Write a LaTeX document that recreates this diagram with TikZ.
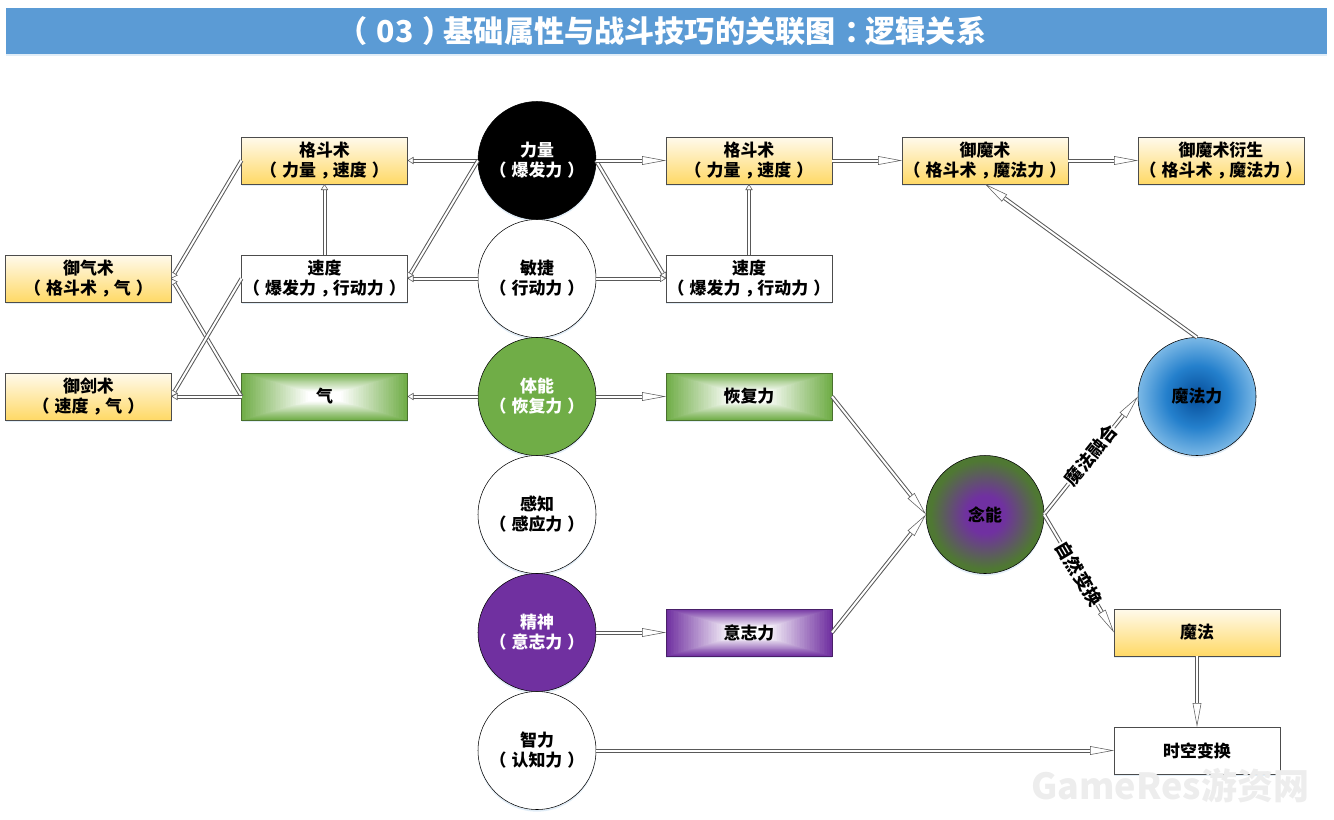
\documentclass[tikz,border=0pt]{standalone}
\usepackage{fontspec}
\setmainfont{Noto Sans CJK SC}
\usetikzlibrary{arrows.meta,shadows}
\definecolor{barblue}{HTML}{5B9BD5}
\definecolor{goldlow}{HTML}{FFD966}
\definecolor{goldtop}{HTML}{FFFAEC}
\definecolor{gridgreen}{HTML}{70AD47}
\definecolor{gridpurple}{HTML}{7030A0}
\newcommand{\lpr}{\kern-.3em（\kern.3em}
\newcommand{\rpr}{\kern.3em）\kern-.3em}
\newcommand{\cma}{\kern.25em，\kern-.25em}
\newcommand{\cln}{\kern.3em：\kern-.3em}
\pgfdeclareradialshading{magicglow}{\pgfpointorigin}{rgb(0bp)=(0.02,0.30,0.60);rgb(13bp)=(0.14,0.50,0.80);rgb(25bp)=(0.48,0.72,0.90);rgb(36bp)=(0.80,0.88,0.95);rgb(50bp)=(0.80,0.88,0.95)}
\pgfdeclareradialshading{nianglow}{\pgfpointorigin}{rgb(0bp)=(0.44,0.19,0.63);rgb(8bp)=(0.44,0.19,0.63);rgb(23bp)=(0.31,0.47,0.20);rgb(50bp)=(0.31,0.47,0.20)}
\tikzset{
 softshadow/.style={drop shadow={shadow xshift=0pt,shadow yshift=-1.6pt,opacity=.18,fill=barblue}},
 basebox/.style={rectangle,draw=black!70,line width=.5pt,minimum width=124.5pt,minimum height=35.25pt,inner sep=0pt,outer sep=0pt,align=center,font=\bfseries\fontsize{12.7}{15}\selectfont,softshadow},
 plainbox/.style={basebox,fill=white},
 goldbox/.style={basebox,top color=goldtop,bottom color=goldlow},
 glowbox/.style={basebox,draw=#1!65!black,fill=#1,path picture={\foreach \k in {100,98,...,0}{\pgfmathtruncatemacro{\c}{max(0,(\k-20)*1.25)};\fill[#1!\c!white]([xshift=-\k*.6225pt,yshift=-\k*.1763pt]path picture bounding box.center) rectangle ([xshift=\k*.6225pt,yshift=\k*.1763pt]path picture bounding box.center);}}},
 basecirc/.style={circle,draw=black,line width=.4pt,minimum size=88.5pt,inner sep=0pt,outer sep=0pt,align=center,font=\bfseries\fontsize{12.7}{15}\selectfont,softshadow},
 whitecirc/.style={basecirc,fill=white},
 blackcirc/.style={basecirc,fill=black,text=white},
 greencirc/.style={basecirc,fill=gridgreen,text=white},
 purplecirc/.style={basecirc,fill=gridpurple,text=white},
 magiccirc/.style={basecirc,shading=magicglow},
 niancirc/.style={basecirc,shading=nianglow},
 dbl/.style={draw=black!65,line width=.75pt,double=white,double distance=1.5pt},
 longtip/.style={dbl,-{Triangle[open,fill=white,length=18pt,width=6.5pt,line width=.4pt]}},
 shorttip/.style={dbl,-{Triangle[open,fill=white,length=4.5pt,width=5.5pt,line width=.4pt]}},
 linelabel/.style={sloped,midway,fill=white,inner sep=0pt,font=\bfseries\fontsize{13.5}{13.5}\selectfont}
}
\begin{document}
\begin{tikzpicture}[x=.75pt,y=-.75pt]
\useasboundingbox (0,0) rectangle (1334,819);
\node[fill=barblue,minimum width=990.75pt,minimum height=34.5pt,inner sep=0pt,outer sep=0pt,text=white,font=\bfseries\fontsize{22.6}{24}\selectfont,softshadow] (titlebar) at (666.5,31) {\lpr 03\rpr 基础属性与战斗技巧的关联图\cln 逻辑关系};
\foreach \nm/\sty/\x/\y/\txt in {liliang/blackcirc/537/160.5/{力量\\\lpr 爆发力\rpr},minjie/whitecirc/537/278.5/{敏捷\\\lpr 行动力\rpr},tineng/greencirc/537/396.5/{体能\\\lpr 恢复力\rpr},ganzhi/whitecirc/537/514.5/{感知\\\lpr 感应力\rpr},jingshen/purplecirc/537/632.5/{精神\\\lpr 意志力\rpr},zhili/whitecirc/537/750.5/{智力\\\lpr 认知力\rpr},mofali/magiccirc/1197/396.5/{魔法力},nianneng/niancirc/985/514.5/{念能}}{\node[\sty] (\nm) at (\x,\y) {\txt};}
\foreach \nm/\sty/\x/\y/\txt in {yuqi/goldbox/88.5/278.5/{御气术\\\lpr 格斗术\cma 气\rpr},yujian/goldbox/88.5/396.5/{御剑术\\\lpr 速度\cma 气\rpr},gedoua/goldbox/324.5/160.5/{格斗术\\\lpr 力量\cma 速度\rpr},sudua/plainbox/324.5/278.5/{速度\\\lpr 爆发力\cma 行动力\rpr},gedoub/goldbox/749/160.5/{格斗术\\\lpr 力量\cma 速度\rpr},sudub/plainbox/749/278.5/{速度\\\lpr 爆发力\cma 行动力\rpr},yumo/goldbox/985/160.5/{御魔术\\\lpr 格斗术\cma 魔法力\rpr},yumoyan/goldbox/1221/160.5/{御魔术衍生\\\lpr 格斗术\cma 魔法力\rpr},mofa/goldbox/1197/632.5/{魔法},shikong/plainbox/1197/750.5/{时空变换}}{\node[\sty] (\nm) at (\x,\y) {\txt};}
\node[glowbox=gridgreen] (qi) at (324.5,396.5) {气};
\node[glowbox=gridgreen] (huifu) at (749,396.5) {恢复力};
\node[glowbox=gridpurple] (yizhi) at (749,632.5) {意志力};
\foreach \a/\b in {liliang.west/gedoua.east,liliang.west/sudua.east,minjie.west/sudua.east,sudua.north/gedoua.south,gedoua.west/yuqi.east,qi.west/yuqi.east,sudua.west/yujian.east,qi.west/yujian.east,tineng.west/qi.east,sudub.north/gedoub.south,liliang.east/sudub.west,minjie.east/sudub.west}{\draw[shorttip](\a)--(\b);}
\foreach \a/\b in {liliang.east/gedoub.west,gedoub.east/yumo.west,yumo.east/yumoyan.west,mofali.north/yumo.south,tineng.east/huifu.west,jingshen.east/yizhi.west,huifu.east/nianneng.west,yizhi.east/nianneng.west,mofa.south/shikong.north,zhili.east/shikong.west}{\draw[longtip](\a)--(\b);}
\draw[longtip](nianneng.east)--(mofali.west) node[linelabel] {魔法融合};
\draw[longtip](nianneng.east)--(mofa.west) node[linelabel] {自然变换};
\node[text=black!7,font=\bfseries\fontsize{27}{27}\selectfont] (watermark) at (1170,786) {GameRes游资网};
\end{tikzpicture}
\end{document}
